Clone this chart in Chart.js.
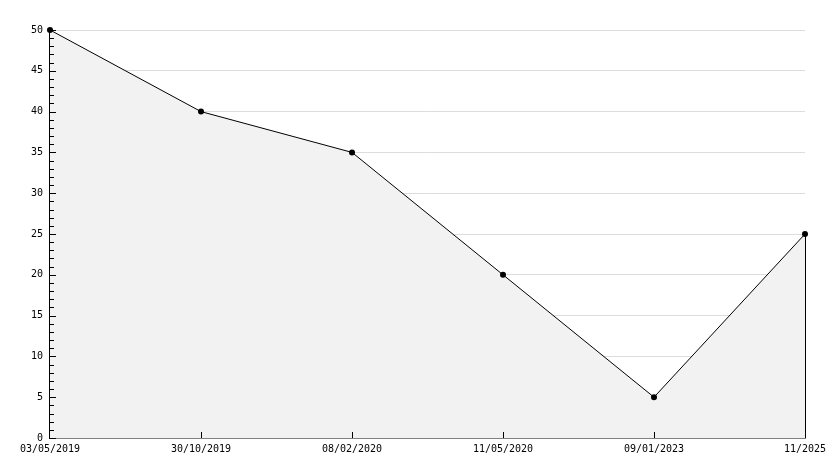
<!DOCTYPE html>
<html lang="en">
<head>
    <meta charset="UTF-8">
    <title>Chart</title>
    <script src="https://cdn.jsdelivr.net/npm/chart.js@4/dist/chart.umd.min.js"></script>
    <style>
        html, body { margin: 0; padding: 0; background: #fff; }
        #wrap { width: 834px; height: 468px; }
    </style>
</head>
<body>
    <div id="wrap"><canvas id="chart" width="834" height="468"></canvas></div>

    <script>
        // datos del grafico
        const fechas = ['03/05/2019', '30/10/2019', '08/02/2020', '11/05/2020', '09/01/2023', '11/2025'];
        const valores = [50, 40, 35, 20, 5, 25];
        const yMin = 0;
        const yMax = 50;
        const yPaso = 5;

        // marcas hacia dentro del area (mayores y menores) + borde derecho del relleno
        const marcasPlugin = {
            id: 'marcas',
            afterDatasetsDraw(chart) {
                const ctx = chart.ctx;
                const x = chart.scales.x;
                const y = chart.scales.y;
                const area = chart.chartArea;
                ctx.save();
                ctx.strokeStyle = '#000';
                ctx.lineWidth = 1;
                ctx.beginPath();
                for (let v = yMin; v <= yMax; v++) {
                    const py = Math.round(y.getPixelForValue(v)) + 0.5;
                    const len = v % yPaso === 0 ? 6 : 4;
                    ctx.moveTo(area.left, py);
                    ctx.lineTo(area.left + len, py);
                }
                for (let i = 1; i < fechas.length - 1; i++) {
                    const px = Math.round(x.getPixelForValue(i)) + 0.5;
                    ctx.moveTo(px, area.bottom);
                    ctx.lineTo(px, area.bottom - 6);
                }
                // linea vertical al final del relleno
                const ultimo = fechas.length - 1;
                const pxu = Math.round(x.getPixelForValue(ultimo)) + 0.5;
                ctx.moveTo(pxu, y.getPixelForValue(valores[ultimo]));
                ctx.lineTo(pxu, area.bottom);
                ctx.stroke();
                ctx.restore();
            }
        };

        const fuente = { family: 'DejaVu Sans Mono', size: 10 };

        const ctx = document.getElementById('chart').getContext('2d');
        const chart = new Chart(ctx, {
            type: 'line',
            data: {
                labels: fechas,
                datasets: [{
                    data: valores,
                    borderColor: '#000',
                    borderWidth: 1,
                    backgroundColor: '#f2f2f2',
                    fill: 'origin',
                    tension: 0,
                    clip: false,
                    pointRadius: 3,
                    pointBackgroundColor: '#000',
                    pointBorderColor: '#000',
                    pointBorderWidth: 0
                }]
            },
            options: {
                responsive: false,
                animation: false,
                layout: { padding: { top: 30, right: 29, left: 0, bottom: 0 } },
                plugins: {
                    legend: { display: false },
                    tooltip: { enabled: false }
                },
                scales: {
                    x: {
                        offset: false,
                        grid: { display: false, drawTicks: false },
                        border: { display: true, color: '#000', width: 1.5 },
                        ticks: {
                            color: '#000',
                            font: fuente,
                            padding: 5,
                            maxRotation: 0,
                            autoSkip: false
                        },
                        afterFit(s) { s.height = 30; }
                    },
                    y: {
                        min: yMin,
                        max: yMax,
                        grid: {
                            drawTicks: false,
                            color: (c) => c.tick && c.tick.value === 0 ? 'rgba(0,0,0,0)' : '#dddddd',
                            lineWidth: 1
                        },
                        border: { display: true, color: '#000', width: 1.5 },
                        ticks: {
                            stepSize: yPaso,
                            color: '#000',
                            font: fuente,
                            padding: 7
                        },
                        afterFit(s) { s.width = 50; }
                    }
                }
            },
            plugins: [marcasPlugin]
        });
    </script>
</body>
</html>
